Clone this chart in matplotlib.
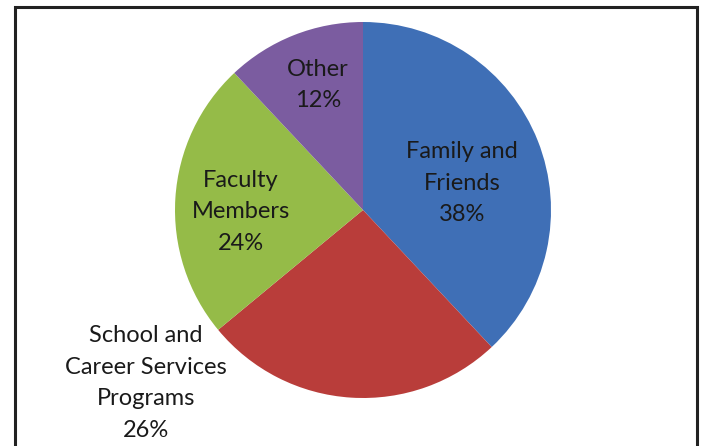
import matplotlib.pyplot as plt
from matplotlib.patches import Rectangle

# data
labels = ["Family and\nFriends", "School and\nCareer Services\nPrograms", "Faculty\nMembers", "Other"]
shares = [38, 26, 24, 12]
colors = ["#3F6FB6", "#B93D3A", "#95BB48", "#7B5CA0"]

# label anchor points (pixels, y measured from top)
label_pos = [(462, 183), (146, 383), (241, 212), (318, 85)]

W, H = 702, 446
fig = plt.figure(figsize=(W / 100, H / 100), dpi=100)
ax = fig.add_axes([0, 0, 1, 1])

cx, cy, r = 363, H - 210, 188
ax.pie(shares, colors=colors, startangle=90, counterclock=False,
       center=(cx, cy), radius=r, frame=True,
       wedgeprops=dict(linewidth=0))
ax.set_xlim(0, W)
ax.set_ylim(0, H)
ax.set_aspect("equal")
ax.set_axis_off()

for lab, val, (px, py) in zip(labels, shares, label_pos):
    ax.text(px, H - py, f"{lab}\n{val}%", ha="center", va="center",
            fontsize=17, family="Lato", color="#1a1a1a", linespacing=1.62)

# outer frame
ax.add_patch(Rectangle((15, -10), 682, H - 7 + 10, fill=False,
                       edgecolor="#222222", linewidth=2.2))

fig.savefig("out.png", dpi=100)
